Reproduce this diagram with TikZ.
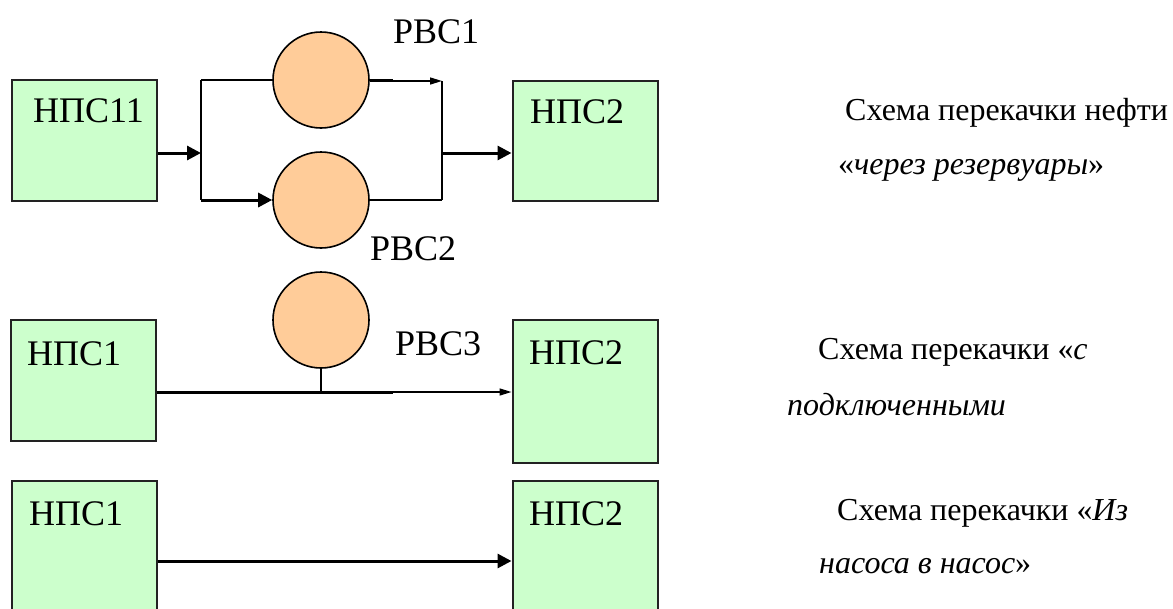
\documentclass[tikz,border=0pt]{standalone}
\usepackage{fontspec}
\setmainfont{Liberation Serif}
\usetikzlibrary{arrows.meta}
\definecolor{boxgreen}{HTML}{CCFFCC}
\definecolor{tankfill}{HTML}{FFCC99}
\definecolor{edgegray}{HTML}{222222}
\tikzset{
  station/.style={draw=edgegray, line width=2pt, fill=boxgreen, rectangle,
    inner sep=0pt, minimum width=145pt},
  tank/.style={draw=black, line width=1.6pt, fill=tankfill, circle,
    inner sep=0pt, minimum size=96pt},
  lbl/.style={anchor=base west, inner sep=0pt, font=\fontsize{36}{40}\selectfont},
  caption/.style={anchor=base west, inner sep=0pt, font=\fontsize{32}{36}\selectfont},
  pipe/.style={line width=3pt},
  thinpipe/.style={line width=1.5pt},
  bigtip/.style={-{Triangle[length=14pt,width=14pt]}},
  smalltip/.style={-{Triangle[length=12pt,width=7pt]}},
}
\begin{document}
\begin{tikzpicture}[x=1pt,y=-1pt]
\useasboundingbox (0,0) rectangle (1173,608);
\clip (0,0) rectangle (1173,608);

% ---- scheme 1: through the tanks ----
\node[station, minimum height=121pt] (s11) at (84,140.5) {};
\node[station, minimum height=120pt] (s12) at (585,141) {};
\node[tank] (t1) at (321,80) {};
\node[tank] (t2) at (321,200) {};
\node[lbl] (s11t) at (33,122) {НПС11};
\node[lbl] (s12t) at (530,123) {НПС2};
\node[lbl] (t1t) at (393,43) {РВС1};
\node[lbl] (t2t) at (370,260) {РВС2};

\coordinate (splitT) at (201,80);
\coordinate (splitM) at (201,153);
\coordinate (splitB) at (201,200);
\coordinate (out1) at (393,80);
\coordinate (mergeT) at (442,81);
\coordinate (mergeM) at (442,153);
\coordinate (mergeB) at (442,200);

\draw[pipe, bigtip] (s11.east |- splitM) -- (splitM);
\draw[thinpipe] (splitT) -- (splitB);
\draw[thinpipe] (splitT) -- (t1.west);
\draw[pipe, bigtip] (splitB) -- (t2.west);
\draw[pipe] (t1.east) -- (out1);
\draw[thinpipe, smalltip] (out1 |- mergeT) -- (mergeT);
\draw[thinpipe] (mergeT) -- (mergeB);
\draw[thinpipe] (t2.east) -- (mergeB);
\draw[pipe, bigtip] (mergeM) -- (s12.west |- mergeM);

% ---- scheme 2: with a connected tank ----
\node[station, minimum height=121pt] (s21) at (83,380.5) {};
\node[station, minimum height=143pt] (s22) at (585,391.5) {};
\node[tank] (t3) at (321,320) {};
\node[lbl] (s21t) at (27,365) {НПС1};
\node[lbl] (s22t) at (529,364) {НПС2};
\node[lbl] (t3t) at (395,355) {РВС3};

\coordinate (tee) at (321,392);
\coordinate (line2) at (393,392);
\draw[pipe] (s21.east |- tee) -- (line2);
\draw[thinpipe] (t3.south) -- (tee);
\draw[thinpipe, smalltip] (line2) -- (s22.west |- line2);

% ---- scheme 3: pump to pump ----
\node[station, minimum height=160pt] (s31) at (84,561) {};
\node[station, minimum height=160pt] (s32) at (585,561) {};
\node[lbl] (s31t) at (29,525) {НПС1};
\node[lbl] (s32t) at (529,525) {НПС2};
\draw[pipe, bigtip] (s31.east) -- (s32.west);

% ---- captions ----
\node[caption] (c1a) at (845,120) {Схема перекачки нефти};
\node[caption] (c1b) at (838,174) {«\textit{через резервуары}»};
\node[caption] (c2a) at (818,359) {Схема перекачки «\textit{с}};
\node[caption] (c2b) at (787,415) {\textit{подключенными}};
\node[caption] (c3a) at (837,520) {Схема перекачки «\textit{Из}};
\node[caption] (c3b) at (819,573) {\textit{насоса в насос}»};
\end{tikzpicture}
\end{document}
